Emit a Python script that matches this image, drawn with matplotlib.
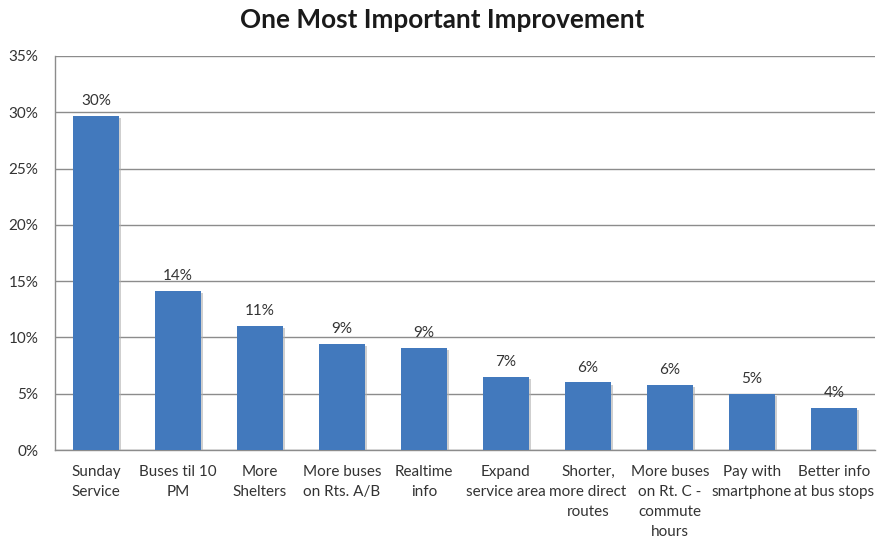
import numpy as np
import matplotlib
matplotlib.use('Agg')
import matplotlib.pyplot as plt
import matplotlib.patheffects as pe

categories = ['Sunday\nService', 'Buses til 10\nPM', 'More\nShelters', 'More buses\non Rts. A/B',
              'Realtime\ninfo', 'Expand\nservice area', 'Shorter,\nmore direct\nroutes',
              'More buses\non Rt. C -\ncommute\nhours', 'Pay with\nsmartphone', 'Better info\nat bus stops']
values = [29.7, 14.1, 11.0, 9.4, 9.1, 6.5, 6.0, 5.8, 5.0, 3.7]
labels = ['30%', '14%', '11%', '9%', '9%', '7%', '6%', '6%', '5%', '4%']
yticks = [0, 5, 10, 15, 20, 25, 30, 35]

plt.rcParams['font.family'] = ['Lato', 'DejaVu Sans']

fig = plt.figure(figsize=(8.84, 5.41), dpi=100)
ax = fig.add_axes([0.0622, 0.1682, 0.9276, 0.7283])

x = np.arange(len(categories))
bars = ax.bar(x, values, width=0.56, color='#4279bd', zorder=3,
              path_effects=[pe.SimplePatchShadow(offset=(1.5, -1.5), shadow_rgbFace='#b0b0b0', alpha=0.6),
                            pe.Normal()])
for xi, v, lab in zip(x, values, labels):
    ax.text(xi, v + 0.7, lab, ha='center', va='bottom', fontsize=11, color='#333333')

ax.set_xlim(-0.5, len(categories) - 0.5)
ax.set_ylim(0, 35)
ax.set_yticks(yticks)
ax.set_yticklabels([f'{t}%' for t in yticks], fontsize=11, color='#333333')
ax.set_xticks(x)
ax.set_xticklabels(categories, fontsize=11, color='#333333', va='top', linespacing=1.55)
ax.tick_params(axis='x', length=0, pad=11)
ax.tick_params(axis='y', length=0, pad=12)
ax.grid(axis='y', color='#8c8c8c', linewidth=1, zorder=0)
for s in ['top', 'right']:
    ax.spines[s].set_visible(False)
for s in ['left', 'bottom']:
    ax.spines[s].set_color('#8c8c8c')
    ax.spines[s].set_linewidth(1)

fig.text(0.5, 0.963, 'One Most Important Improvement', ha='center', va='center',
         fontsize=18.8, fontweight='bold', color='#1a1a1a')

fig.savefig('out.png', dpi=100)
